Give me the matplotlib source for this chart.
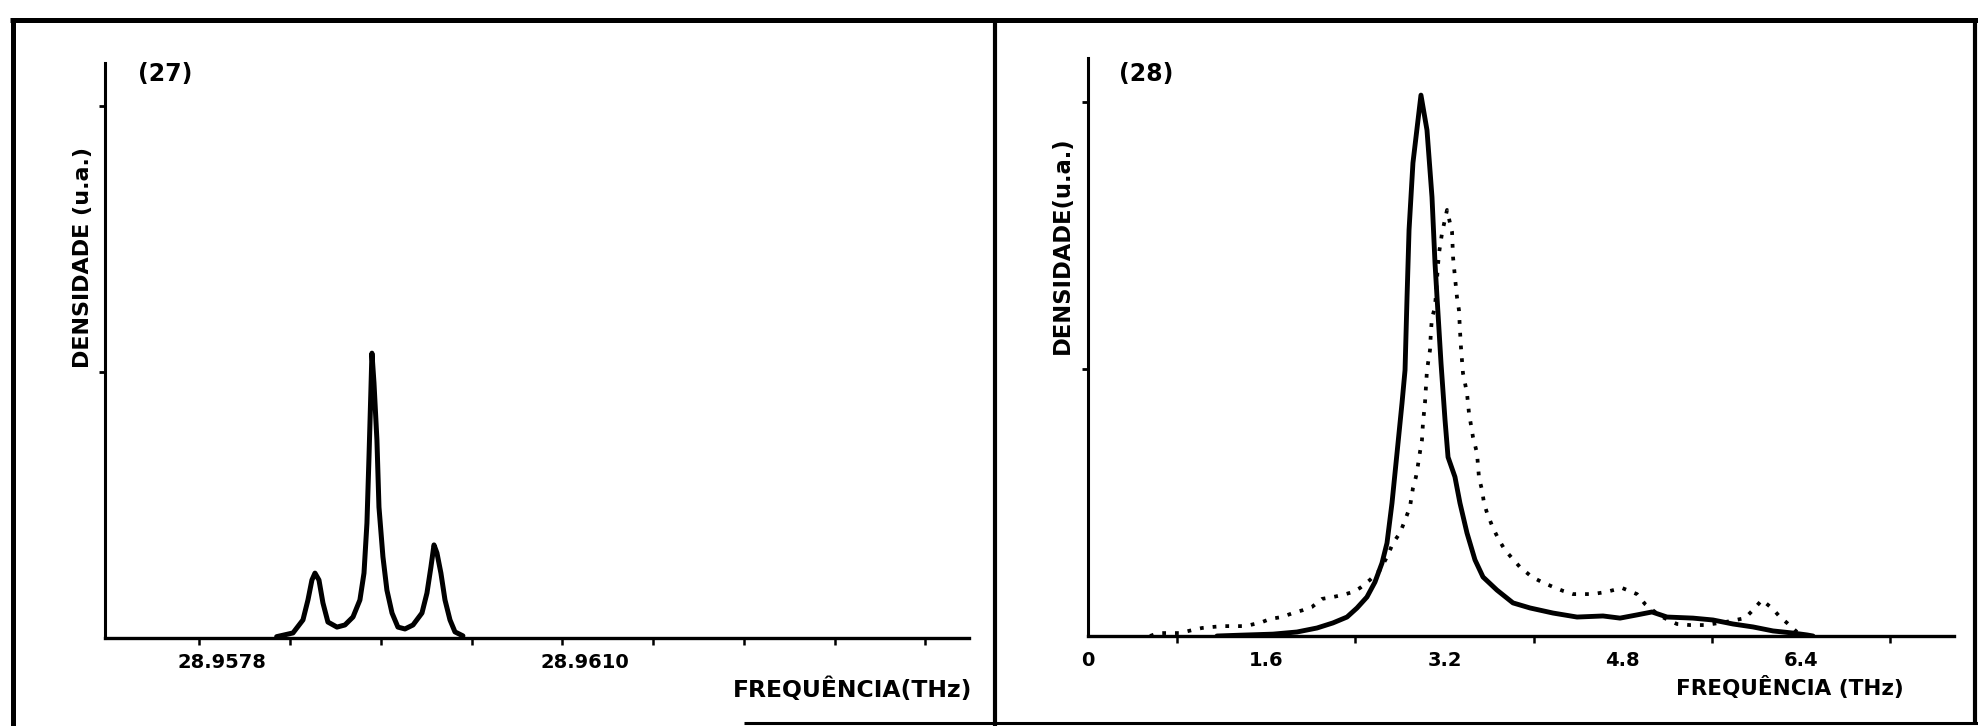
import matplotlib
matplotlib.use("Agg")
import matplotlib.pyplot as plt
from matplotlib.lines import Line2D

plt.rcParams['font.family'] = ['DejaVu Sans']
plt.rcParams['font.weight'] = 'bold'

# --- (27): density of states around 28.96 THz ---
freq_27 = [28.958282, 28.958426, 28.958514, 28.958558, 28.958593, 28.958620,
           28.958655, 28.958690, 28.958734, 28.958814, 28.958884, 28.958955,
           28.959016, 28.959052, 28.959078, 28.959096, 28.959113, 28.959122,
           28.959140, 28.959166, 28.959184, 28.959219, 28.959254, 28.959299,
           28.959351, 28.959413, 28.959484, 28.959563, 28.959607, 28.959642,
           28.959669, 28.959695, 28.959730, 28.959766, 28.959810, 28.959854,
           28.959924]
dens_27 = [0.005, 0.019, 0.068, 0.143, 0.218, 0.244,
           0.218, 0.132, 0.060, 0.041, 0.049, 0.079,
           0.143, 0.244, 0.432, 0.680, 0.932, 1.071,
           0.959, 0.744, 0.492, 0.305, 0.180, 0.094,
           0.041, 0.034, 0.049, 0.094, 0.169, 0.267,
           0.350, 0.320, 0.244, 0.143, 0.068, 0.023,
           0.008]
ticks_27 = [28.9578, 28.9610]
tick_labels_27 = ['28.9578', '28.9610']
minor_27 = [28.9576, 28.9584, 28.9592, 28.9600, 28.9608, 28.9616, 28.9624, 28.9632, 28.9640]

# --- (28): broad band, two spectra ---
freq_28_solid = [1.158, 1.364, 1.661, 1.876, 2.056, 2.199, 2.325, 2.415, 2.504,
                 2.576, 2.639, 2.684, 2.729, 2.774, 2.819, 2.846, 2.864, 2.882,
                 2.917, 2.989, 3.043, 3.088, 3.115, 3.133, 3.169, 3.205, 3.232,
                 3.294, 3.339, 3.402, 3.474, 3.546, 3.671, 3.815, 3.968, 4.174,
                 4.390, 4.623, 4.776, 4.928, 5.063, 5.198, 5.431, 5.610, 5.790,
                 5.969, 6.149, 6.329, 6.454, 6.508]
dens_28_solid = [0.0, 0.003, 0.007, 0.015, 0.030, 0.049, 0.071, 0.105, 0.146,
                 0.202, 0.273, 0.348, 0.498, 0.685, 0.873, 0.996, 1.270, 1.521,
                 1.772, 2.026, 1.895, 1.644, 1.397, 1.270, 1.022, 0.809, 0.670,
                 0.596, 0.498, 0.386, 0.285, 0.221, 0.172, 0.124, 0.105, 0.086,
                 0.071, 0.075, 0.067, 0.079, 0.090, 0.071, 0.067, 0.060, 0.045,
                 0.034, 0.019, 0.011, 0.004, 0.0]

freq_28_dot = [0.557, 0.628, 0.826, 0.934, 1.023, 1.122, 1.212, 1.382, 1.454,
               1.562, 1.634, 1.741, 1.840, 1.930, 2.011, 2.101, 2.199, 2.289,
               2.379, 2.442, 2.531, 2.621, 2.684, 2.738, 2.801, 2.846, 2.890,
               2.917, 2.944, 2.962, 2.980, 2.998, 3.007, 3.025, 3.043, 3.070,
               3.079, 3.088, 3.115, 3.142, 3.151, 3.178, 3.223, 3.268, 3.277,
               3.294, 3.312, 3.330, 3.339, 3.348, 3.366, 3.402, 3.420, 3.456,
               3.492, 3.510, 3.537, 3.555, 3.582, 3.636, 3.689, 3.743, 3.806,
               3.878, 3.986, 4.075, 4.174, 4.264, 4.354, 4.443, 4.533, 4.650,
               4.794, 4.928, 5.000, 5.135, 5.287, 5.404, 5.539, 5.718, 5.898,
               5.969, 6.050, 6.149, 6.212, 6.275, 6.364, 6.418]
dens_28_dot = [0.0, 0.011, 0.011, 0.022, 0.030, 0.034, 0.037, 0.037, 0.041,
               0.052, 0.064, 0.071, 0.086, 0.097, 0.109, 0.139, 0.146, 0.154,
               0.165, 0.180, 0.210, 0.247, 0.296, 0.348, 0.386, 0.434, 0.483,
               0.554, 0.596, 0.640, 0.689, 0.734, 0.798, 0.873, 0.996, 1.071,
               1.146, 1.191, 1.232, 1.390, 1.434, 1.509, 1.596, 1.513, 1.419,
               1.345, 1.270, 1.221, 1.146, 1.082, 0.985, 0.910, 0.835, 0.745,
               0.685, 0.592, 0.547, 0.498, 0.461, 0.404, 0.360, 0.322, 0.292,
               0.258, 0.221, 0.202, 0.184, 0.169, 0.157, 0.157, 0.157, 0.165,
               0.180, 0.157, 0.120, 0.075, 0.045, 0.041, 0.041, 0.052, 0.067,
               0.097, 0.135, 0.101, 0.071, 0.049, 0.015, 0.004]
ticks_28 = [0, 1.6, 3.2, 4.8, 6.4]
tick_labels_28 = ['0', '1.6', '3.2', '4.8', '6.4']
minor_28 = [0.8, 2.4, 4.0, 5.6, 7.2]

W, H = 1978, 726
fig = plt.figure(figsize=(W / 100, H / 100), dpi=100)


def box(x0, y0, x1, y1):
    # pixel rectangle (top-left origin) -> figure fraction
    return [x0 / W, 1 - y1 / H, (x1 - x0) / W, (y1 - y0) / H]


def fx(x):
    return x / W


def fy(y):
    return 1 - y / H


ax1 = fig.add_axes(box(105, 63, 969, 638))
ax2 = fig.add_axes(box(1088, 58, 1954, 636))

for ax in (ax1, ax2):
    ax.spines['top'].set_visible(False)
    ax.spines['right'].set_visible(False)
    ax.spines['left'].set_linewidth(2.2)
    ax.spines['bottom'].set_linewidth(2.4)
    ax.set_yticks([1, 2])
    ax.tick_params(axis='y', direction='out', length=4, width=2, labelleft=False)
    ax.tick_params(axis='x', which='major', length=0, pad=11, labelsize=14)
    ax.tick_params(axis='x', which='minor', direction='out', length=5, width=1.8)
    ax.patch.set_alpha(0)

ax1.plot(freq_27, dens_27, color='black', lw=3.6,
         solid_joinstyle='round', solid_capstyle='round')
ax1.set_xlim(28.956769, 28.964385)
ax1.set_ylim(0, 2.162)
ax1.set_xticks(ticks_27)
ax1.set_xticklabels(tick_labels_27, fontweight='bold')
ax1.set_xticks(minor_27, minor=True)

ax2.plot(freq_28_solid, dens_28_solid, color='black', lw=3.5,
         solid_joinstyle='round', solid_capstyle='round')
ax2.plot(freq_28_dot, dens_28_dot, color='black', lw=2.7,
         linestyle=(0, (1, 2.4)))
ax2.set_xlim(0, 7.774)
ax2.set_ylim(0, 2.165)
ax2.set_xticks(ticks_28)
ax2.set_xticklabels(tick_labels_28, fontweight='bold')
ax2.set_xticks(minor_28, minor=True)

# panel tags and axis titles
fig.text(fx(138), fy(74), '(27)', fontsize=17, fontweight='bold', va='center', ha='left')
fig.text(fx(1119), fy(74), '(28)', fontsize=17, fontweight='bold', va='center', ha='left')
fig.text(fx(83), fy(257), 'DENSIDADE (u.a.)', rotation=90, fontsize=16,
         fontweight='bold', ha='center', va='center')
fig.text(fx(1062), fy(245), 'DENSIDADE(u.a.)', rotation=90, fontsize=16.3,
         fontweight='bold', ha='center', va='center')
fig.text(fx(972), fy(690), 'FREQUÊNCIA(THz)', fontsize=16.9, fontweight='bold',
         ha='right', va='center')
fig.text(fx(1904), fy(687), 'FREQUÊNCIA (THz)', fontsize=15.5, fontweight='bold',
         ha='right', va='center')

# outer frame and divider
frame = [((10, 20), (1978, 20), 3.6),
         ((13, 20), (13, 726), 3.6),
         ((995, 20), (995, 726), 3.0),
         ((1975, 20), (1975, 724), 3.0),
         ((744, 723), (1978, 723), 2.2)]
for (x0, y0), (x1, y1), lw in frame:
    fig.add_artist(Line2D([fx(x0), fx(x1)], [fy(y0), fy(y1)], color='black',
                          lw=lw, solid_capstyle='butt'))

fig.savefig('out.png', dpi=100)
